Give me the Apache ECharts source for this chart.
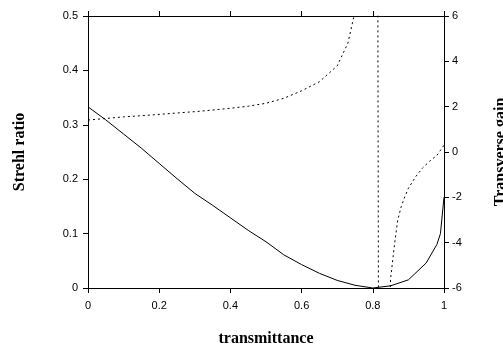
<!DOCTYPE html>
<html>
<head>
<meta charset="utf-8">
<script src="https://cdn.jsdelivr.net/npm/echarts@6/dist/echarts.min.js"></script>
<style>
  html, body { margin: 0; padding: 0; background: #fff; }
  #chart { width: 503px; height: 349px; }
</style>
</head>
<body>
<div id="chart"></div>
<script>
// Strehl ratio (left axis), solid line
const strehlX = [0, 0.05, 0.1, 0.15, 0.2, 0.25, 0.3, 0.35, 0.4, 0.45, 0.5, 0.55, 0.6, 0.65, 0.7, 0.75, 0.8, 0.85, 0.9, 0.95, 0.98, 0.99, 1.0]
const strehlY = [0.333, 0.309, 0.283, 0.257, 0.229, 0.201, 0.174, 0.152, 0.129, 0.106, 0.085, 0.061, 0.043, 0.027, 0.014, 0.005, 0.0, 0.004, 0.015, 0.046, 0.08, 0.10, 0.167]

// Transverse gain (right axis), dotted line, pole near 0.815
const gainX = [0, 0.05, 0.1, 0.15, 0.2, 0.25, 0.3, 0.35, 0.4, 0.45, 0.5, 0.55, 0.6, 0.65, 0.7, 0.73, 0.75, 0.77, 0.79, 0.81, 0.82, 0.83, 0.85, 0.86, 0.87, 0.88, 0.89, 0.9, 0.92, 0.94, 0.96, 0.98, 1.0]
const gainY = [1.41, 1.48, 1.55, 1.6, 1.66, 1.72, 1.78, 1.85, 1.93, 2.02, 2.15, 2.37, 2.7, 3.1, 3.8, 4.8, 6.2, 8.5, 14, 40, -40, -15, -5.6, -4.2, -3.0, -2.4, -1.97, -1.6, -1.1, -0.7, -0.4, -0.15, 0.3]

const chart = echarts.init(document.getElementById("chart"))

const axisText = { color: "#000", fontFamily: "Liberation Sans", fontSize: 11 }
const titleText = { color: "#000", fontFamily: "Liberation Serif", fontWeight: "bold", fontSize: 16 }
const blackLine = { show: true, onZero: false, lineStyle: { color: "#000", width: 1 } }
const tick = { show: true, length: 5, lineStyle: { color: "#000", width: 1 } }

const option = {
  animation: false,
  grid: { left: 88, right: 59, top: 16, bottom: 61, outerBoundsMode: "none", containLabel: false },
  xAxis: [
    {
      type: "value",
      min: 0,
      max: 1,
      interval: 0.2,
      position: "bottom",
      name: "transmittance",
      nameLocation: "middle",
      nameGap: 43,
      nameTextStyle: titleText,
      axisLine: blackLine,
      axisTick: tick,
      axisLabel: { ...axisText, margin: 12 },
      splitLine: { show: false },
    },
    {
      type: "value",
      min: 0,
      max: 1,
      interval: 0.2,
      position: "top",
      axisLine: blackLine,
      axisTick: tick,
      axisLabel: { show: false },
      splitLine: { show: false },
    },
  ],
  yAxis: [
    {
      type: "value",
      min: 0,
      max: 0.5,
      interval: 0.1,
      position: "left",
      name: "Strehl ratio",
      nameLocation: "middle",
      nameGap: 60,
      nameTextStyle: titleText,
      axisLine: blackLine,
      axisTick: tick,
      axisLabel: { ...axisText, margin: 10 },
      splitLine: { show: false },
    },
    {
      type: "value",
      min: -6,
      max: 6,
      interval: 2,
      position: "right",
      name: "Transverse gain",
      nameLocation: "middle",
      nameGap: 49,
      nameRotate: 90,
      nameTextStyle: titleText,
      axisLine: blackLine,
      axisTick: tick,
      axisLabel: { ...axisText, margin: 8 },
      splitLine: { show: false },
    },
  ],
  series: [
    {
      type: "line",
      yAxisIndex: 0,
      showSymbol: false,
      symbol: "none",
      data: strehlX.map((x, i) => [x, strehlY[i]]),
      lineStyle: { color: "#000", width: 1 },
    },
    {
      type: "line",
      yAxisIndex: 1,
      showSymbol: false,
      symbol: "none",
      clip: true,
      data: gainX.map((x, i) => [x, gainY[i]]),
      lineStyle: { color: "#000", width: 1, type: [2, 3] },
    },
  ],
}

chart.setOption(option)
</script>
</body>
</html>
